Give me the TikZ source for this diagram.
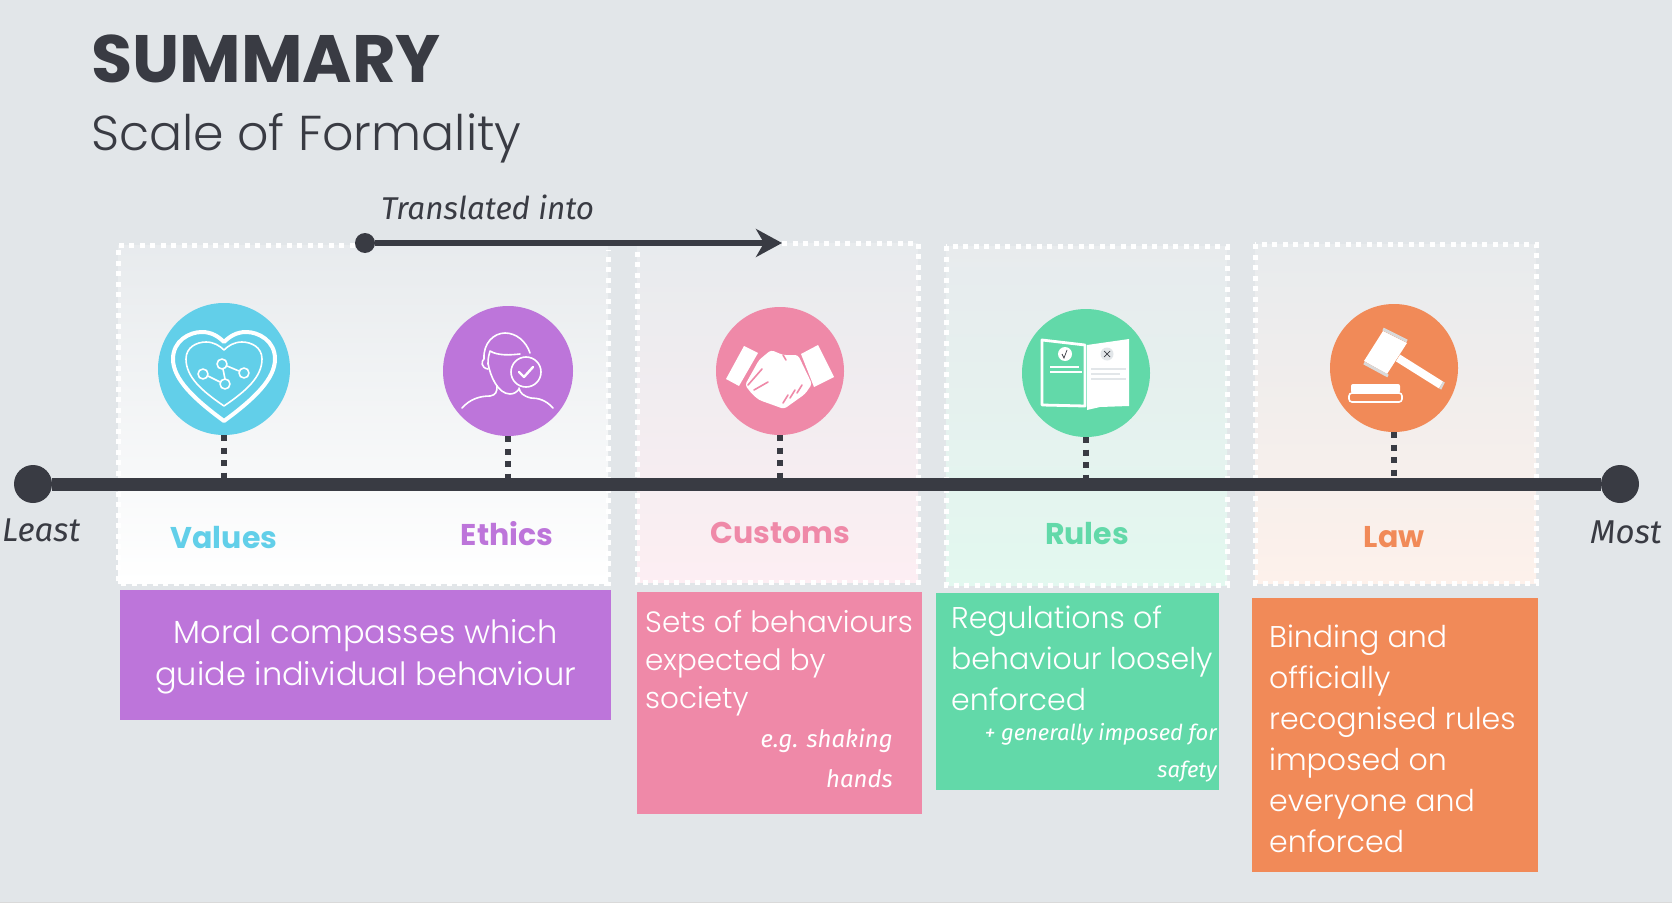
\documentclass[tikz,border=0pt]{standalone}
\usepackage{fontspec}
\usepackage{xcolor}
\usepackage{tikz}
\usetikzlibrary{arrows.meta, positioning, calc}
\setmainfont{Poppins}
\newfontfamily\thinfont{Poppins}[UprightFont=* Light]
\newfontfamily\handfont{Fira Sans}[UprightFont=*, ItalicFont=* Italic]
\definecolor{formalbg}{HTML}{E2E6E9}
\definecolor{formalink}{HTML}{393B43}
\definecolor{valuesblue}{HTML}{62CFE9}
\definecolor{ethicspurple}{HTML}{BD75DA}
\definecolor{customspink}{HTML}{EF89A8}
\definecolor{rulesgreen}{HTML}{62D9A9}
\definecolor{laworange}{HTML}{F18A58}
\definecolor{capgrey}{HTML}{D9D9D9}

\begin{document}
\begin{tikzpicture}[
        x=1pt, y=-1pt,
        roundel/.style={circle, inner sep=0pt, minimum size=128pt},
        tier/.style={anchor=base, font=\fontsize{30}{30}\selectfont\bfseries},
        descbox/.style={anchor=north west, inner sep=0pt},
        desc/.style={anchor=north west, inner sep=0pt, align=left, text=white, font=\thinfont\fontsize{30}{41}\selectfont},
        note/.style={anchor=north east, inner sep=0pt, align=right, text=white, font=\handfont\itshape\fontsize{24}{40}\selectfont},
        hand/.style={anchor=base west, inner sep=0pt, text=formalink, font=\handfont\itshape\fontsize{33}{33}\selectfont},
        dotlink/.style={formalink, line width=5.5pt, dash pattern=on 6pt off 6.5pt},
        dotframe/.style={white, line width=5pt, dash pattern=on 5pt off 5.5pt},
        icon/.style={white, line width=1.6pt, line cap=round, line join=round}
    ]
    \useasboundingbox (0,0) rectangle (1672,912);
    \fill[formalbg] (0,0) rectangle (1672,903);
    \draw[capgrey, line width=1pt] (0,902.5) -- (1672,902.5);

    % title
    \node (title) [anchor=base west, inner sep=0pt, text=formalink, font=\fontsize{67}{67}\selectfont\bfseries] at (91,83) {SUMMARY};
    \node (subtitle) [anchor=base west, inner sep=0pt, text=formalink, font=\thinfont\fontsize{49}{49}\selectfont] at (91,151) {Scale of Formality};

    % tinted panels
    \shade[top color=formalbg!80!white, bottom color=white] (118,245) rectangle (608,583);
    \shade[top color=formalbg!80!white, bottom color=customspink!14!white] (637,243) rectangle (918,582);
    \shade[top color=formalbg!80!white, bottom color=rulesgreen!18!white] (946,246) rectangle (1227,585);
    \shade[top color=formalbg!80!white, bottom color=laworange!12!white] (1255,244) rectangle (1536,583);
    \draw[dotframe] (365,245) -- (118,245) -- (118,583) -- (608,583) -- (608,250);
    \draw[dotframe] (782,243) -- (918,243) -- (918,582) -- (637,582) -- (637,250);
    \draw[dotframe] (946,246) rectangle (1227,585);
    \draw[dotframe] (1255,244) rectangle (1536,583);

    % roundels
    \node (values) [roundel, fill=valuesblue, minimum size=132pt] at (224,369) {};
    \node (ethics) [roundel, fill=ethicspurple, minimum size=130pt] at (508,371) {};
    \node (customs) [roundel, fill=customspink] at (780,371) {};
    \node (rules) [roundel, fill=rulesgreen] at (1086,373) {};
    \node (law) [roundel, fill=laworange] at (1394,368) {};

    % scale
    \node (least) [circle, fill=formalink, inner sep=0pt, minimum size=38pt] at (33,484) {};
    \node (most) [circle, fill=formalink, inner sep=0pt, minimum size=38pt] at (1620,484) {};
    \draw[formalink, line width=13pt] (least) -- (most);
    \foreach \tiername in {values, ethics, customs, rules, law}
        \draw[dotlink] (\tiername.south) -- (\tiername |- least);
    \node (leastlabel) [hand] at (2,541) {Least};
    \node (mostlabel) [hand] at (1590,543) {Most};

    % translated arrow
    \node (fromdot) [circle, fill=formalink, inner sep=0pt, minimum size=20pt] at (365,243) {};
    \coordinate (totip) at (782,243);
    \draw[formalink, line width=5.5pt, -{Stealth[length=26pt, width=28pt, inset=8pt]}] (fromdot) -- (totip);
    \node (translated) [hand, font=\handfont\itshape\fontsize{31.5}{32}\selectfont] at (381,219) {Translated into};

    % tier names
    \node (valuesname) [tier, text=valuesblue] at (224,548) {Values};
    \node (ethicsname) [tier, text=ethicspurple] at (507,545) {Ethics};
    \node (customsname) [tier, text=customspink] at (780,543) {Customs};
    \node (rulesname) [tier, text=rulesgreen] at (1087,544) {Rules};
    \node (lawname) [tier, text=laworange] at (1394,547) {Law};

    % description boxes
    \node (valuesbox) [descbox, fill=ethicspurple, minimum width=491pt, minimum height=130pt] at (120,590) {};
    \node (customsbox) [descbox, fill=customspink, minimum width=285pt, minimum height=222pt] at (637,592) {};
    \node (rulesbox) [descbox, fill=rulesgreen, minimum width=283pt, minimum height=197pt] at (936,593) {};
    \node (lawbox) [descbox, fill=laworange, minimum width=286pt, minimum height=274pt] at (1252,598) {};

    \node (valuestext) [desc, anchor=center, align=center, font=\thinfont\fontsize{32}{42}\selectfont] at ($(valuesbox)+(0,2)$) {Moral compasses which\\guide individual behaviour};
    \node (customstext) [desc, font=\thinfont\fontsize{29.4}{38}\selectfont] at (645,610) {Sets of behaviours\\expected by\\society};
    \node (customsnote) [note] at (893,729) {e.g. shaking\\hands};
    \node (rulestext) [desc] at (951,606) {Regulations of\\behaviour loosely\\enforced};
    \node (rulesnote) [note, font=\handfont\itshape\fontsize{22}{37}\selectfont] at (1217,723) {+ generally imposed for\\safety};
    \node (lawtext) [desc] at (1269,625) {Binding and\\officially\\recognised rules\\imposed on\\everyone and\\enforced};

    % heart icon
    \begin{scope}[shift={(values.center)}]
        \draw[icon, line width=4pt] (0,52) .. controls (-30,30) and (-51,10) .. (-51,-10) .. controls (-51,-28) and (-35,-37) .. (-22,-37) .. controls (-12,-37) and (-5,-32) .. (0,-27) .. controls (5,-32) and (12,-37) .. (22,-37) .. controls (35,-37) and (51,-28) .. (51,-10) .. controls (51,10) and (30,30) .. (0,52) -- cycle;
        \draw[icon] (0,37) .. controls (-22,22) and (-38,8) .. (-38,-10) .. controls (-38,-22) and (-27,-27) .. (-18,-27) .. controls (-10,-27) and (-4,-23) .. (0,-19) .. controls (4,-23) and (10,-27) .. (18,-27) .. controls (27,-27) and (38,-22) .. (38,-10) .. controls (38,8) and (22,22) .. (0,37) -- cycle;
        \draw[icon] (-16,7) -- (-4,13) (1,10) -- (-1,0) (3,-3) -- (15,2);
        \draw[icon] (-21,5) circle (5) (-2,-5) circle (5) (1,15) circle (5) (20,4) circle (5);
    \end{scope}

    % person icon
    \begin{scope}[shift={(ethics.center)}]
        \draw[icon] (-46,37) .. controls (-38,28) and (-28,25) .. (-18,25) .. controls (-12,24) and (-11,21) .. (-11,15);
        \draw[icon] (45,37) .. controls (38,29) and (30,27) .. (23,27) .. controls (15,25) and (12,22) .. (11,17);
        \draw[icon] (-20,-8) .. controls (-18,5) and (-10,23) .. (2,23) .. controls (6,23) and (9,21) .. (11,18);
        \draw[icon] (-20,-2) .. controls (-27,-3) and (-27,-10) .. (-24,-12) .. controls (-25,-28) and (-14,-38) .. (-3,-38) .. controls (8,-38) and (18,-30) .. (22,-18);
        \draw[icon] (-20,-7) .. controls (-20,-14) and (-19,-16) .. (-18,-20) .. controls (-10,-15) and (3,-16) .. (12,-17);
        \draw[icon, fill=ethicspurple] (18,1) circle (15);
        \draw[icon, line width=2.4pt] (11,1) -- (16,6) -- (25,-4);
    \end{scope}

    % handshake icon
    \begin{scope}[shift={(customs.center)}]
        \fill[white] (-36,-25) -- (-22,-18) -- (-41,15) -- (-54,8) -- cycle;
        \fill[white] (38,-26) -- (54,6) -- (34,16) -- (21,-17) -- cycle;
        \fill[white, rounded corners=3pt] (-21,-11) -- (-9,-21) -- (3,-16) -- (18,-16) -- (32,13) -- (25,23) -- (4,38) -- (-7,34) -- (-21,29) -- (-28,23) -- (-35,14) -- cycle;
        \draw[customspink, line width=1.6pt, line cap=round] (-32,14) -- (-18,-2) (-26,19) -- (-12,11) (3,-16) -- (6,-11) (3,32) -- (8,24) (10,27) -- (15,19) (17,22) -- (22,14);
    \end{scope}

    % book icon
    \begin{scope}[shift={(rules.center)}]
        \draw[white, line width=2.8pt, line join=round] (-44,-33) -- (-1,-28) -- (-1,33) -- (-44,32) -- cycle;
        \fill[white] (1,-28) -- (43,-34) -- (43,33) -- (14,34) -- (1,37) -- cycle;
        \fill[white] (-21,-19) circle (7);
        \draw[formalink, line width=0.7pt] (-24,-19) -- (-22,-15) -- (-19,-23);
        \fill[formalbg] (21,-19) circle (6.5);
        \draw[formalink, line width=0.7pt] (18,-22) -- (24,-16) (18,-16) -- (24,-22);
        \draw[white, line width=1.6pt] (-36,-6) -- (-7,-6);
        \draw[white, line width=2.2pt] (-36,-1) -- (-4,-1);
        \draw[formalbg, line width=2.8pt] (5,-4) -- (40,-4) (5,1) -- (34,1) (5,6) -- (40,6);
    \end{scope}

    % gavel icon
    \begin{scope}[shift={(law.center)}]
        \draw[white, line width=8pt] (4,-10) -- (47,17);
        \draw[capgrey, line width=8pt] (47,17) -- (49,18);
        \fill[white] (-11,-37) -- (13,-25) -- (-7,6) -- (-30,-7) -- cycle;
        \draw[capgrey, line width=3pt] (-11,-39) -- (13,-27) (-30,-5) -- (-6,8);
        \fill[white, rounded corners=2pt] (-43,16) rectangle (6,25);
        \draw[white, line width=1.6pt, rounded corners=3pt] (-45,25) rectangle (8,34);
    \end{scope}
\end{tikzpicture}
\end{document}
